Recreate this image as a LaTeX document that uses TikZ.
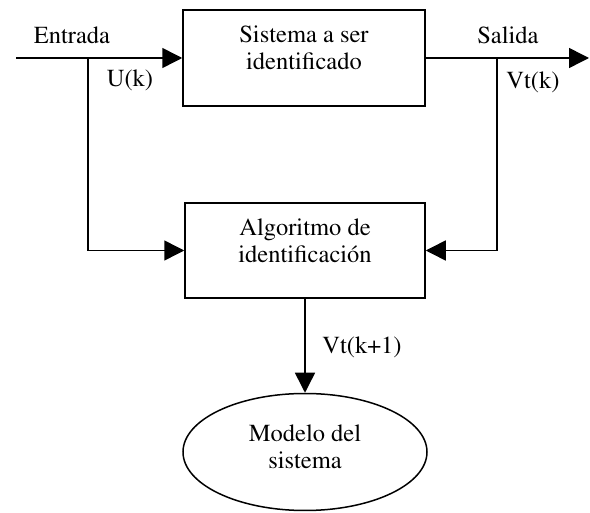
\documentclass[tikz,border=0pt]{standalone}
\usepackage[T1]{fontenc}
\usepackage{mathptmx}
\usetikzlibrary{arrows.meta,shapes.geometric}
\begin{document}
\begin{tikzpicture}[x=1pt,y=-1pt, line width=1.5pt,
 blk/.style={draw, rectangle, inner sep=0pt},
 txt/.style={align=center, inner sep=0pt, font=\fontsize{24.5}{27}\selectfont},
 lbl/.style={inner sep=0pt, font=\fontsize{24.5}{27}\selectfont},
 arr/.style={-{Triangle[length=20pt,width=20pt]}}]
\useasboundingbox (0,0) rectangle (590,513);
\node[blk, minimum width=242pt, minimum height=96pt] (sys) at (304,58) {};
\node[txt] (systxt) at (304,48) {Sistema a ser\\identificado};
\node[blk, minimum width=240pt, minimum height=95pt] (alg) at (305,250.5) {};
\node[txt] (algtxt) at (305,241) {Algoritmo de\\identificaci\'on};
\node[draw, ellipse, inner sep=0pt, minimum width=244pt, minimum height=117pt] (mod) at (305,452) {};
\node[txt] (modtxt) at (305,447) {Modelo del\\sistema};
\coordinate (in) at (16,58);
\coordinate (out) at (589,58);
\coordinate (bl) at (88,58);
\coordinate (br) at (497,58);
\draw[arr] (in) -- (sys.west);
\draw[arr] (sys.east) -- (out);
\draw[arr] (bl) |- (alg.west);
\draw[arr] (br) |- (alg.east);
\draw[arr] (alg.south) -- (mod.north);
\node[lbl] (lin) at (72,35) {Entrada};
\node[lbl] (lu) at (130,80) {U(k)};
\node[lbl] (lout) at (508,35) {Salida};
\node[lbl] (lv) at (533,82) {Vt(k)};
\node[lbl] (lv1) at (362,347) {Vt(k+1)};
\end{tikzpicture}
\end{document}
